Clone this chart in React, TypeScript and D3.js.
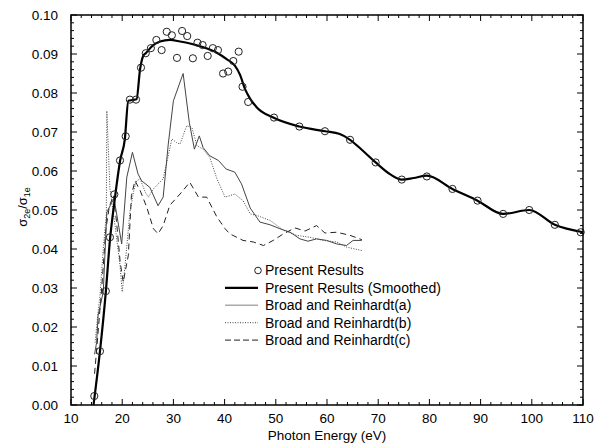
import React from 'react';
import { scaleLinear, line, curveMonotoneX, curveLinear, range, format } from 'd3';

// Present Results (open circles)
const presentE = [14.55, 15.66, 16.8, 17.6, 18.46, 19.57, 20.68, 21.5, 22.7, 23.67, 24.6, 25.6, 26.67, 27.7, 28.7, 29.7, 30.7, 31.7, 32.7, 33.8, 34.7, 35.7, 36.7, 37.7, 38.7, 39.7, 40.7, 41.7, 42.75, 43.5, 44.6, 49.65, 54.6, 59.6, 64.5, 69.5, 74.6, 79.5, 84.5, 89.4, 94.4, 99.5, 104.5, 109.55];
const presentV = [0.0023, 0.0138, 0.0292, 0.043, 0.054, 0.0627, 0.0689, 0.0783, 0.0783, 0.0865, 0.0902, 0.0915, 0.0936, 0.091, 0.0957, 0.0948, 0.089, 0.0959, 0.0946, 0.0889, 0.0929, 0.0923, 0.0895, 0.0915, 0.091, 0.085, 0.0855, 0.0882, 0.0906, 0.0816, 0.0777, 0.0737, 0.0714, 0.0702, 0.068, 0.0622, 0.0578, 0.0586, 0.0554, 0.0524, 0.049, 0.05, 0.0462, 0.0443];

// Present Results (Smoothed)
const smoothE = [14.4, 15.66, 16.8, 17.6, 18.6, 19.6, 20.5, 21.2, 22.0, 22.8, 23.5, 24.1, 24.6, 26.0, 27.4, 29.3, 31.3, 35.2, 38.4, 40.4, 42.0, 43.0, 44.0, 45.0, 46.3, 49.5, 54.6, 59.6, 62.5, 64.5, 67.0, 69.5, 72.3, 74.6, 76.9, 79.5, 84.5, 89.4, 94.4, 99.5, 104.5, 110];
const smoothV = [0.0, 0.0138, 0.029, 0.0422, 0.0533, 0.0627, 0.068, 0.078, 0.0782, 0.0784, 0.0862, 0.0895, 0.0902, 0.0922, 0.0932, 0.0936, 0.0932, 0.092, 0.0904, 0.0887, 0.087, 0.0847, 0.081, 0.0785, 0.0763, 0.0737, 0.0714, 0.0702, 0.0695, 0.068, 0.0652, 0.0622, 0.0592, 0.0578, 0.0582, 0.0588, 0.0554, 0.0524, 0.049, 0.05, 0.0462, 0.0443];

// Broad and Reinhardt (a)
const brAE = [14.6, 15.0, 15.3, 16.3, 17.0, 17.6, 18.4, 19.9, 20.9, 22.0, 23.1, 23.8, 25.4, 27.0, 28.0, 29.0, 30.0, 31.9, 33.1, 34.1, 35.06, 35.8, 37.1, 38.8, 40.3, 42.0, 43.3, 45.0, 46.9, 48.9, 50.8, 52.8, 54.7, 56.3, 57.96, 59.9, 61.9, 63.8, 65.1, 66.8];
const brAV = [0.013, 0.016, 0.023, 0.029, 0.0494, 0.051, 0.053, 0.0413, 0.0584, 0.0648, 0.0592, 0.0575, 0.0558, 0.0511, 0.0533, 0.0669, 0.078, 0.085, 0.0725, 0.0656, 0.069, 0.066, 0.0639, 0.0627, 0.0605, 0.0597, 0.0567, 0.0505, 0.0469, 0.0462, 0.0452, 0.0443, 0.0426, 0.042, 0.0426, 0.0422, 0.0413, 0.0409, 0.0422, 0.0422];

// Broad and Reinhardt (b)
const brBE = [14.7, 15.3, 15.66, 16.3, 16.9, 17.0, 17.6, 18.6, 19.57, 20.0, 20.5, 21.5, 22.2, 22.8, 23.5, 24.5, 25.1, 26.1, 28.0, 29.7, 30.6, 31.3, 32.6, 33.6, 34.6, 35.8, 37.1, 38.5, 40.1, 42.0, 43.6, 45.0, 46.3, 48.9, 51.5, 54.1, 56.7, 59.3, 61.9, 63.8, 66.8];
const brBV = [0.016, 0.024, 0.028, 0.04, 0.049, 0.0754, 0.0555, 0.046, 0.0358, 0.029, 0.035, 0.0494, 0.0546, 0.0575, 0.058, 0.0546, 0.0533, 0.0554, 0.058, 0.0682, 0.0673, 0.0669, 0.0716, 0.0712, 0.0665, 0.0656, 0.0635, 0.058, 0.0533, 0.0541, 0.0524, 0.049, 0.0486, 0.0473, 0.0448, 0.0435, 0.043, 0.0422, 0.0418, 0.0405, 0.0396];

// Broad and Reinhardt (c)
const brCE = [14.6, 15.0, 16.0, 16.8, 17.5, 18.3, 18.9, 19.6, 20.2, 21.2, 21.8, 22.5, 23.5, 24.8, 26.1, 27.0, 28.0, 29.3, 31.3, 33.2, 34.9, 36.5, 38.5, 40.1, 41.0, 43.6, 45.6, 47.6, 49.5, 51.5, 53.75, 55.7, 57.96, 59.6, 61.9, 64.5, 66.8];
const brCV = [0.008, 0.014, 0.03, 0.045, 0.051, 0.0537, 0.0469, 0.0367, 0.0315, 0.0384, 0.0537, 0.0575, 0.055, 0.0507, 0.0452, 0.0439, 0.046, 0.0512, 0.0541, 0.0571, 0.0533, 0.0533, 0.0482, 0.0452, 0.0439, 0.0422, 0.0418, 0.0409, 0.0422, 0.0439, 0.0454, 0.0446, 0.046, 0.0441, 0.0443, 0.0435, 0.0424];

const legendLabels = ['Present Results', 'Present Results (Smoothed)', 'Broad and Reinhardt(a)', 'Broad and Reinhardt(b)', 'Broad and Reinhardt(c)'];

const W = 597;
const H = 443;
const M = { left: 71, right: 14, top: 15, bottom: 38 };
const FONT = 'Liberation Sans, Arial, Helvetica, sans-serif';

const zip = (xs: number[], ys: number[]) => xs.map((e, i) => [e, ys[i]] as [number, number]);

export default function App() {
  const x = scaleLinear().domain([10, 110]).range([M.left, W - M.right]);
  const y = scaleLinear().domain([0, 0.1]).range([H - M.bottom, M.top]);
  const x0 = x.range()[0], x1 = x.range()[1];
  const y0 = y.range()[0], y1 = y.range()[1];

  const smoothLine = line<[number, number]>().x((d) => x(d[0])).y((d) => y(d[1])).curve(curveMonotoneX);
  const rawLine = line<[number, number]>().x((d) => x(d[0])).y((d) => y(d[1])).curve(curveLinear);

  const xMajor = x.ticks(10);
  const xMinor = range(10, 110.01, 2).filter((v) => v % 10 !== 0);
  const yMajor = range(0, 0.1001, 0.01);
  const yMinor = range(0, 0.1001, 0.002).filter((_, i) => i % 5 !== 0);
  const fy = format('.2f');

  const lgX1 = 225, lgX2 = 258, lgText = 265, lgY = 270.5, lgStep = 17.4;

  return (
    <svg width={W} height={H} style={{ position: 'absolute', left: 0, top: 0, background: '#fff' }} fontFamily={FONT}>
      <rect width={W} height={H} fill="#fff" />
      {/* reference curves */}
      <path d={rawLine(zip(brCE, brCV)) || ''} fill="none" stroke="#222" strokeWidth={1} strokeDasharray="6,4" />
      <path d={rawLine(zip(brBE, brBV)) || ''} fill="none" stroke="#444" strokeWidth={1} strokeDasharray="1,1.5" />
      <path d={rawLine(zip(brAE, brAV)) || ''} fill="none" stroke="#444" strokeWidth={1} />
      <path d={smoothLine(zip(smoothE, smoothV)) || ''} fill="none" stroke="#000" strokeWidth={2.2} />
      {presentE.map((e, i) => (
        <circle key={i} cx={x(e)} cy={y(presentV[i])} r={3.6} fill="none" stroke="#222" strokeWidth={1} />
      ))}

      {/* frame and ticks */}
      <rect x={x0} y={y1} width={x1 - x0} height={y0 - y1} fill="none" stroke="#000" strokeWidth={1.5} />
      {xMajor.map((v) => (
        <g key={'xm' + v}>
          <line x1={x(v)} x2={x(v)} y1={y0} y2={y0 - 6} stroke="#000" />
          <line x1={x(v)} x2={x(v)} y1={y1} y2={y1 + 6} stroke="#000" />
          <text x={x(v)} y={y0 + 18} textAnchor="middle" fontSize={13.5}>{v}</text>
        </g>
      ))}
      {xMinor.map((v) => (
        <g key={'xn' + v}>
          <line x1={x(v)} x2={x(v)} y1={y0} y2={y0 - 3} stroke="#000" />
          <line x1={x(v)} x2={x(v)} y1={y1} y2={y1 + 3} stroke="#000" />
        </g>
      ))}
      {yMajor.map((v, i) => (
        <g key={'ym' + i}>
          <line x1={x0} x2={x0 + 6} y1={y(v)} y2={y(v)} stroke="#000" />
          <line x1={x1} x2={x1 - 6} y1={y(v)} y2={y(v)} stroke="#000" />
          <text x={x0 - 13} y={y(v)} dy="0.35em" textAnchor="end" fontSize={13.5}>{fy(v)}</text>
        </g>
      ))}
      {yMinor.map((v, i) => (
        <g key={'yn' + i}>
          <line x1={x0} x2={x0 + 3} y1={y(v)} y2={y(v)} stroke="#000" />
          <line x1={x1} x2={x1 - 3} y1={y(v)} y2={y(v)} stroke="#000" />
        </g>
      ))}

      {/* axis titles */}
      <text x={x(60)} y={H - 3} textAnchor="middle" fontSize={13.5}>Photon Energy (eV)</text>
      <text transform={`translate(27, ${y(0.05) - 3}) rotate(-90)`} textAnchor="middle" fontSize={13}>
        σ<tspan fontSize={9} dy={3}>2e</tspan><tspan dy={-3}>/σ</tspan><tspan fontSize={9} dy={3}>1e</tspan>
      </text>

      {/* legend */}
      <circle cx={lgX2} cy={lgY} r={3.3} fill="none" stroke="#222" strokeWidth={1} />
      <line x1={lgX1} x2={lgX2} y1={lgY + lgStep} y2={lgY + lgStep} stroke="#000" strokeWidth={2.2} />
      <line x1={lgX1} x2={lgX2} y1={lgY + 2 * lgStep} y2={lgY + 2 * lgStep} stroke="#aaa" strokeWidth={1.5} />
      <line x1={lgX1} x2={lgX2} y1={lgY + 3 * lgStep} y2={lgY + 3 * lgStep} stroke="#444" strokeWidth={1} strokeDasharray="1,1.5" />
      <line x1={lgX1} x2={lgX2} y1={lgY + 4 * lgStep} y2={lgY + 4 * lgStep} stroke="#222" strokeWidth={1} strokeDasharray="6,3" />
      {legendLabels.map((t, i) => (
        <text key={t} x={lgText} y={lgY + i * lgStep} dy="0.35em" fontSize={14}>{t}</text>
      ))}
    </svg>
  );
}
